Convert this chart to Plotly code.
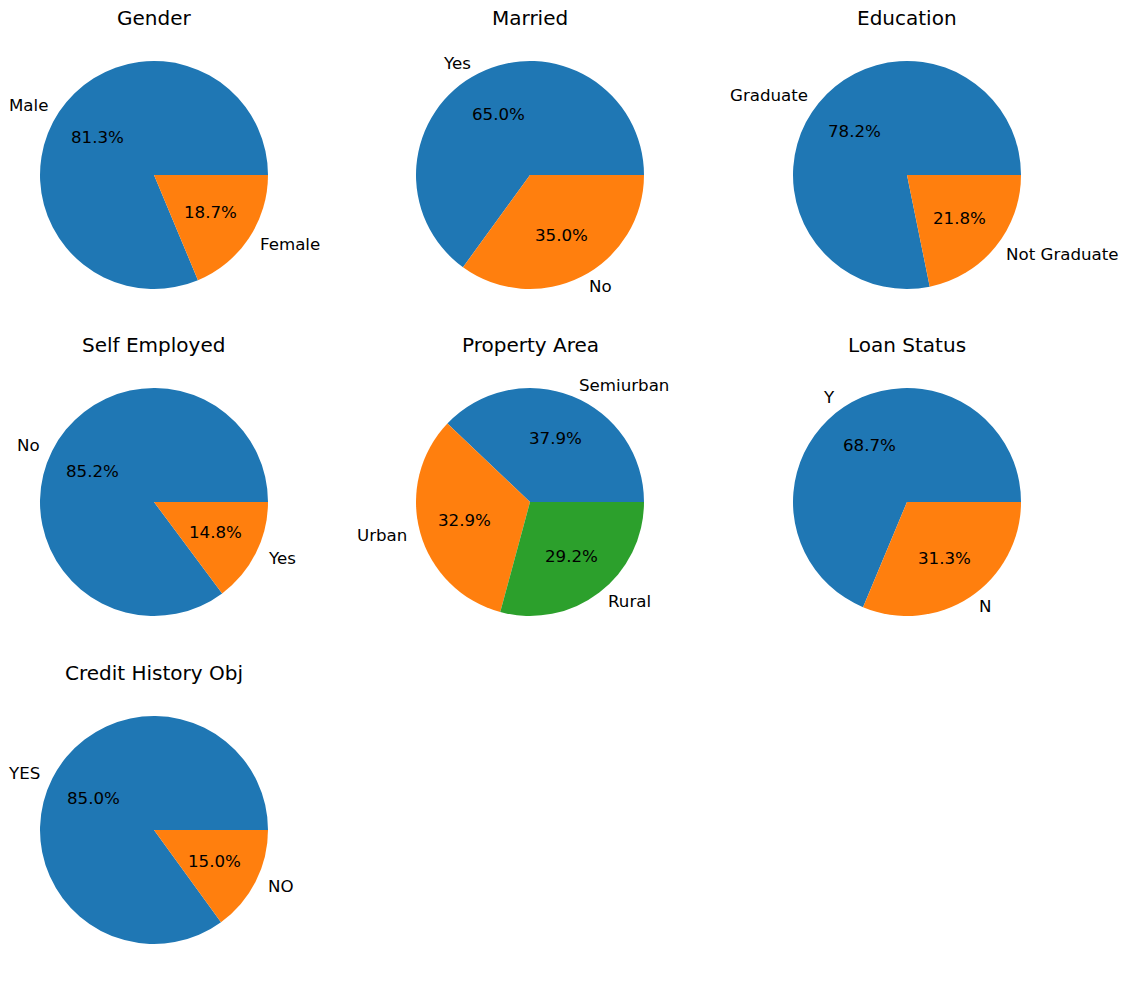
import math
import plotly.graph_objects as go

W, H = 1126, 983

titles = ["Gender", "Married", "Education", "Self Employed", "Property Area", "Loan Status", "Credit History Obj"]
labels = [
    ["Male", "Female"],
    ["Yes", "No"],
    ["Graduate", "Not Graduate"],
    ["No", "Yes"],
    ["Semiurban", "Urban", "Rural"],
    ["Y", "N"],
    ["YES", "NO"],
]
values = [
    [81.3, 18.7],
    [65.0, 35.0],
    [78.2, 21.8],
    [85.2, 14.8],
    [37.9, 32.9, 29.2],
    [68.7, 31.3],
    [85.0, 15.0],
]
colors = ["#1f77b4", "#ff7f0e", "#2ca02c"]

# layout (pixels)
col_cx = [154, 530, 907]
row_cy = [175, 502, 830]
R = 114
FONT = "DejaVu Sans"
LABEL_SIZE = 16.67
TITLE_SIZE = 20

fig = go.Figure()
annotations = []
for i, (t, labs, vals) in enumerate(zip(titles, labels, values)):
    cx = col_cx[i % 3]
    cy = row_cy[i // 3]
    x0, x1 = (cx - R) / W, (cx + R) / W
    y0, y1 = 1 - (cy + R) / H, 1 - (cy - R) / H
    total = sum(vals)
    # counterclockwise from 3 o'clock (matplotlib startangle=0)
    rot = 90 - 360 * vals[0] / total
    fig.add_trace(go.Pie(
        labels=labs, values=vals, sort=False, direction="counterclockwise",
        rotation=rot, textinfo="none", hoverinfo="label+percent",
        marker=dict(colors=colors[:len(vals)], line=dict(width=0)),
        domain=dict(x=[x0, x1], y=[y0, y1]), showlegend=False,
    ))
    cum = 0.0
    for lab, v in zip(labs, vals):
        mid = (cum + v / 2) / total * 2 * math.pi
        cum += v
        c, s = math.cos(mid), math.sin(mid)
        # outer label
        lx = cx + 1.1 * R * c
        ly = cy - 1.1 * R * s
        annotations.append(dict(
            x=lx / W, y=1 - ly / H, xref="paper", yref="paper", text=lab,
            showarrow=False, xanchor="left" if c > 0 else "right", yanchor="middle",
            font=dict(family=FONT, size=LABEL_SIZE, color="black"),
        ))
        # percent
        px = cx + 0.6 * R * c
        py = cy - 0.6 * R * s
        annotations.append(dict(
            x=px / W, y=1 - py / H, xref="paper", yref="paper",
            text=f"{v / total * 100:.1f}%",
            showarrow=False, xanchor="center", yanchor="middle",
            font=dict(family=FONT, size=LABEL_SIZE, color="black"),
        ))
    annotations.append(dict(
        x=cx / W, y=1 - (cy - 157) / H, xref="paper", yref="paper", text=t,
        showarrow=False, xanchor="center", yanchor="middle",
        font=dict(family=FONT, size=TITLE_SIZE, color="black"),
    ))

fig.update_layout(
    width=W, height=H, margin=dict(l=0, r=0, t=0, b=0),
    paper_bgcolor="white", plot_bgcolor="white",
    annotations=annotations, font=dict(family=FONT),
)
fig.write_html("out.html")
